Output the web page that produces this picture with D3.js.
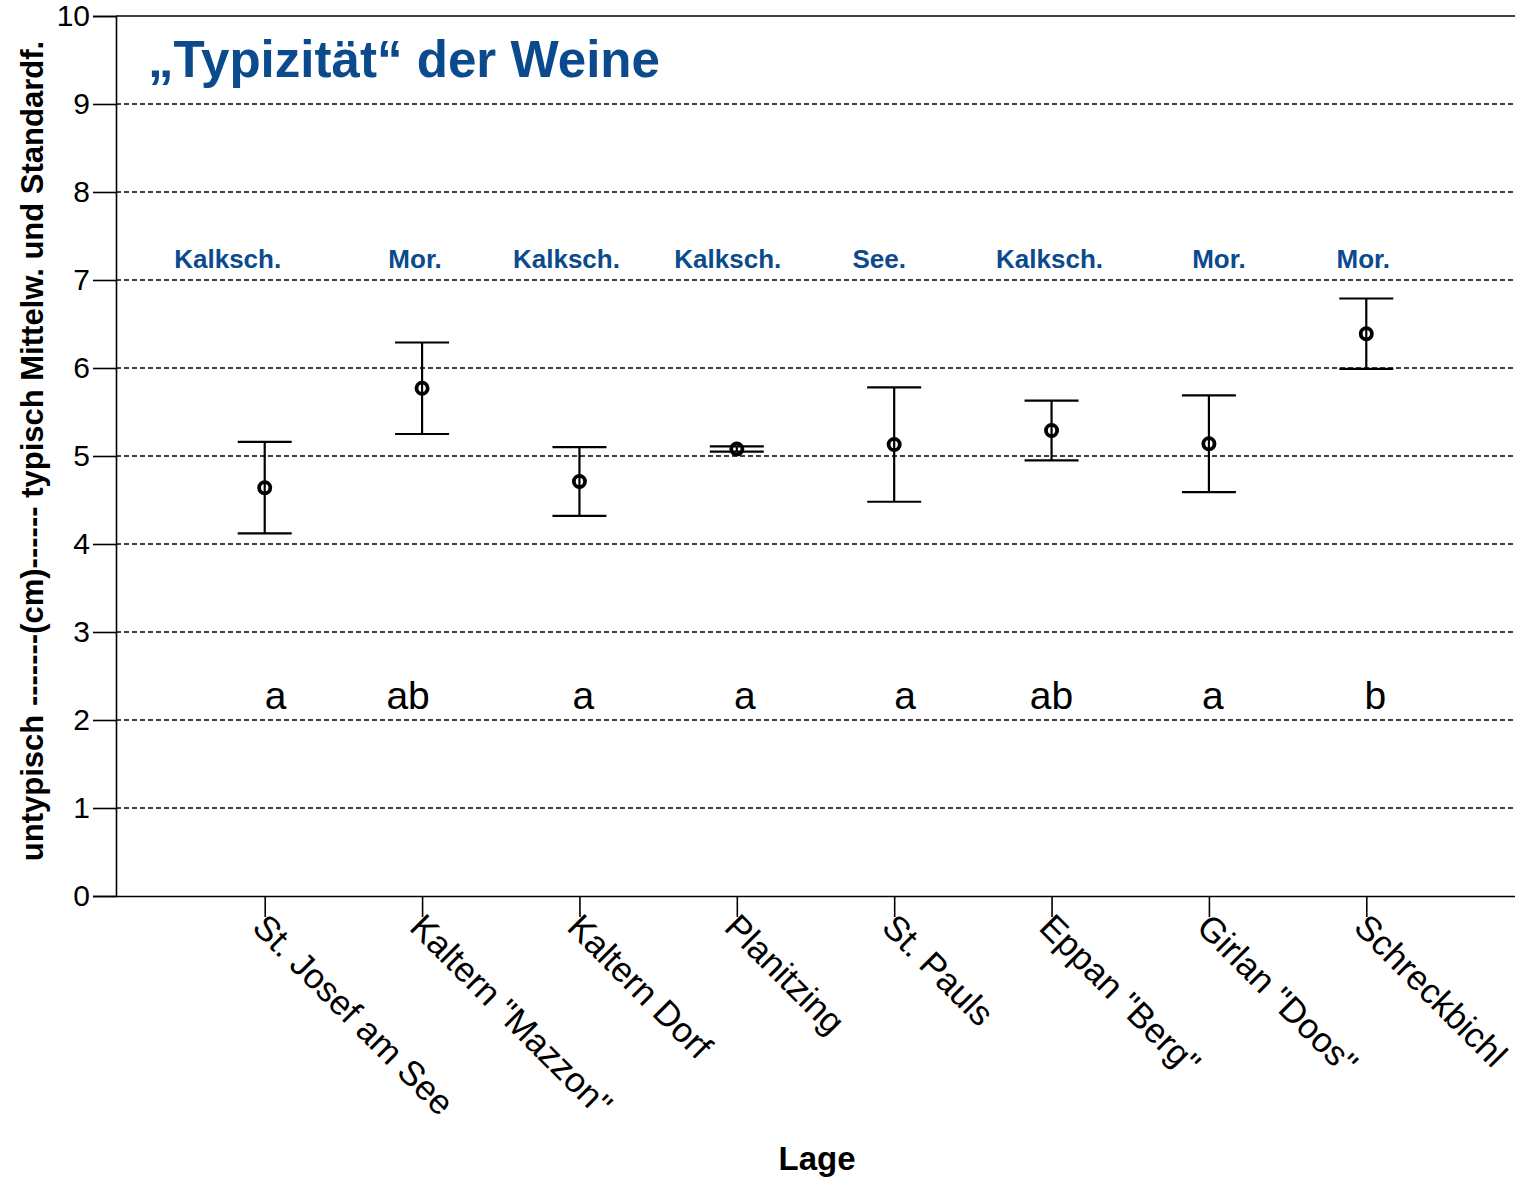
<!DOCTYPE html>
<html>
<head>
<meta charset="utf-8">
<script src="https://cdn.jsdelivr.net/npm/d3@7"></script>
<style>
  html, body { margin: 0; padding: 0; background: #fff; }
  svg { display: block; font-family: "Liberation Sans", Arial, sans-serif; }
</style>
</head>
<body>
<svg id="chart" width="1515" height="1180"></svg>
<script>
// Sites (Lage) along the x axis
const sites = ["St. Josef am See", "Kaltern \"Mazzon\"", "Kaltern Dorf", "Planitzing",
               "St. Pauls", "Eppan \"Berg\"", "Girlan \"Doos\"", "Schreckbichl"];
// Mean typicity score per site (cm on the rating line)
const means = [4.64, 5.77, 4.71, 5.08, 5.13, 5.29, 5.14, 6.39];
// Standard error per site
const stdErr = [0.52, 0.52, 0.39, 0.03, 0.65, 0.34, 0.55, 0.40];
// Soil type written above each site
const soils = ["Kalksch.", "Mor.", "Kalksch.", "Kalksch.", "See.", "Kalksch.", "Mor.", "Mor."];
// Significance groups
const groups = ["a", "ab", "a", "a", "a", "ab", "a", "b"];
// Y tick values
const yTicks = [0, 1, 2, 3, 4, 5, 6, 7, 8, 9, 10];

// Small horizontal nudges for the annotation texts (px)
const soilNudge = [-37, -7, -13, -9, -15, -2, 10, -3];
const groupNudge = [9, -16, 2, 6, 9, -2, 2, 7];

const blue = "#0b4a8c";
const plotLeft = 116, plotRight = 1515, plotTop = 16, plotBottom = 896;

const svg = d3.select("#chart");

const x = d3.scalePoint().domain(sites).range([plotLeft, plotRight]).padding(0.945);
const y = d3.scaleLinear().domain([0, 10]).range([plotBottom, plotTop]);

// Horizontal dashed reference lines
svg.append("g")
  .selectAll("line")
  .data(yTicks.filter(t => t > 0 && t < 10))
  .join("line")
  .attr("x1", plotLeft).attr("x2", plotRight)
  .attr("y1", d => y(d)).attr("y2", d => y(d))
  .attr("stroke", "#000").attr("stroke-width", 1.3)
  .attr("stroke-dasharray", "5,3");

// Top frame line
svg.append("line")
  .attr("x1", plotLeft).attr("x2", plotRight)
  .attr("y1", y(10)).attr("y2", y(10))
  .attr("stroke", "#000").attr("stroke-width", 1.6);

// Y axis
const yAxis = svg.append("g")
  .attr("transform", `translate(${plotLeft},0)`)
  .call(d3.axisLeft(y).tickValues(yTicks).tickSize(23).tickPadding(3).tickFormat(d3.format("d")));
yAxis.select(".domain").attr("stroke", "#000").attr("stroke-width", 1.6);
yAxis.selectAll(".tick line").attr("stroke", "#000").attr("stroke-width", 1.6);
yAxis.selectAll(".tick text")
  .attr("font-family", "Liberation Sans, Arial, sans-serif")
  .attr("font-size", 30).attr("fill", "#000");

// X axis
const xAxis = svg.append("g")
  .attr("transform", `translate(0,${plotBottom})`)
  .call(d3.axisBottom(x).tickSize(21).tickSizeOuter(0).tickFormat(""));
xAxis.select(".domain").attr("stroke", "#000").attr("stroke-width", 1.6);
xAxis.selectAll(".tick line").attr("stroke", "#000").attr("stroke-width", 1.6);

// Rotated site labels
svg.append("g")
  .selectAll("text")
  .data(sites)
  .join("text")
  .attr("transform", d => `translate(${x(d) - 14},${plotBottom + 33}) rotate(45)`)
  .attr("font-size", 35)
  .attr("text-anchor", "start")
  .attr("fill", "#000")
  .text(d => d);

// Error bars
const bars = svg.append("g")
  .selectAll("g")
  .data(sites.map((s, i) => ({ s, m: means[i], e: stdErr[i] })))
  .join("g");
const capHalf = 27;
bars.append("line")
  .attr("x1", d => x(d.s)).attr("x2", d => x(d.s))
  .attr("y1", d => y(d.m - d.e)).attr("y2", d => y(d.m + d.e))
  .attr("stroke", "#000").attr("stroke-width", 2.2);
bars.append("line")
  .attr("x1", d => x(d.s) - capHalf).attr("x2", d => x(d.s) + capHalf)
  .attr("y1", d => y(d.m + d.e)).attr("y2", d => y(d.m + d.e))
  .attr("stroke", "#000").attr("stroke-width", 2.2);
bars.append("line")
  .attr("x1", d => x(d.s) - capHalf).attr("x2", d => x(d.s) + capHalf)
  .attr("y1", d => y(d.m - d.e)).attr("y2", d => y(d.m - d.e))
  .attr("stroke", "#000").attr("stroke-width", 2.2);
bars.append("circle")
  .attr("cx", d => x(d.s)).attr("cy", d => y(d.m))
  .attr("r", 5.6)
  .attr("fill", "none").attr("stroke", "#000").attr("stroke-width", 3.8);

// Soil type annotations
svg.append("g")
  .selectAll("text")
  .data(soils)
  .join("text")
  .attr("x", (d, i) => x(sites[i]) + soilNudge[i])
  .attr("y", 268)
  .attr("text-anchor", "middle")
  .attr("font-size", 26).attr("font-weight", "bold")
  .attr("fill", blue)
  .text(d => d);

// Significance group letters
svg.append("g")
  .selectAll("text")
  .data(groups)
  .join("text")
  .attr("x", (d, i) => x(sites[i]) + groupNudge[i] + 2)
  .attr("y", 709)
  .attr("text-anchor", "middle")
  .attr("font-size", 39)
  .attr("fill", "#000")
  .text(d => d);

// Title
svg.append("text")
  .attr("x", 148).attr("y", 77)
  .attr("font-size", 52).attr("font-weight", "bold")
  .attr("fill", blue)
  .attr("textLength", 512).attr("lengthAdjust", "spacingAndGlyphs")
  .text("\u201ETypizit\u00E4t\u201C der Weine");

// Axis titles
svg.append("text")
  .attr("transform", "translate(43,451) rotate(-90)")
  .attr("text-anchor", "middle")
  .attr("font-size", 31).attr("font-weight", "bold")
  .attr("fill", "#000")
  .text("untypisch -------(cm)------ typisch Mittelw. und Standardf.");

svg.append("text")
  .attr("x", 817).attr("y", 1170)
  .attr("text-anchor", "middle")
  .attr("font-size", 33).attr("font-weight", "bold")
  .attr("fill", "#000")
  .text("Lage");
</script>
</body>
</html>
